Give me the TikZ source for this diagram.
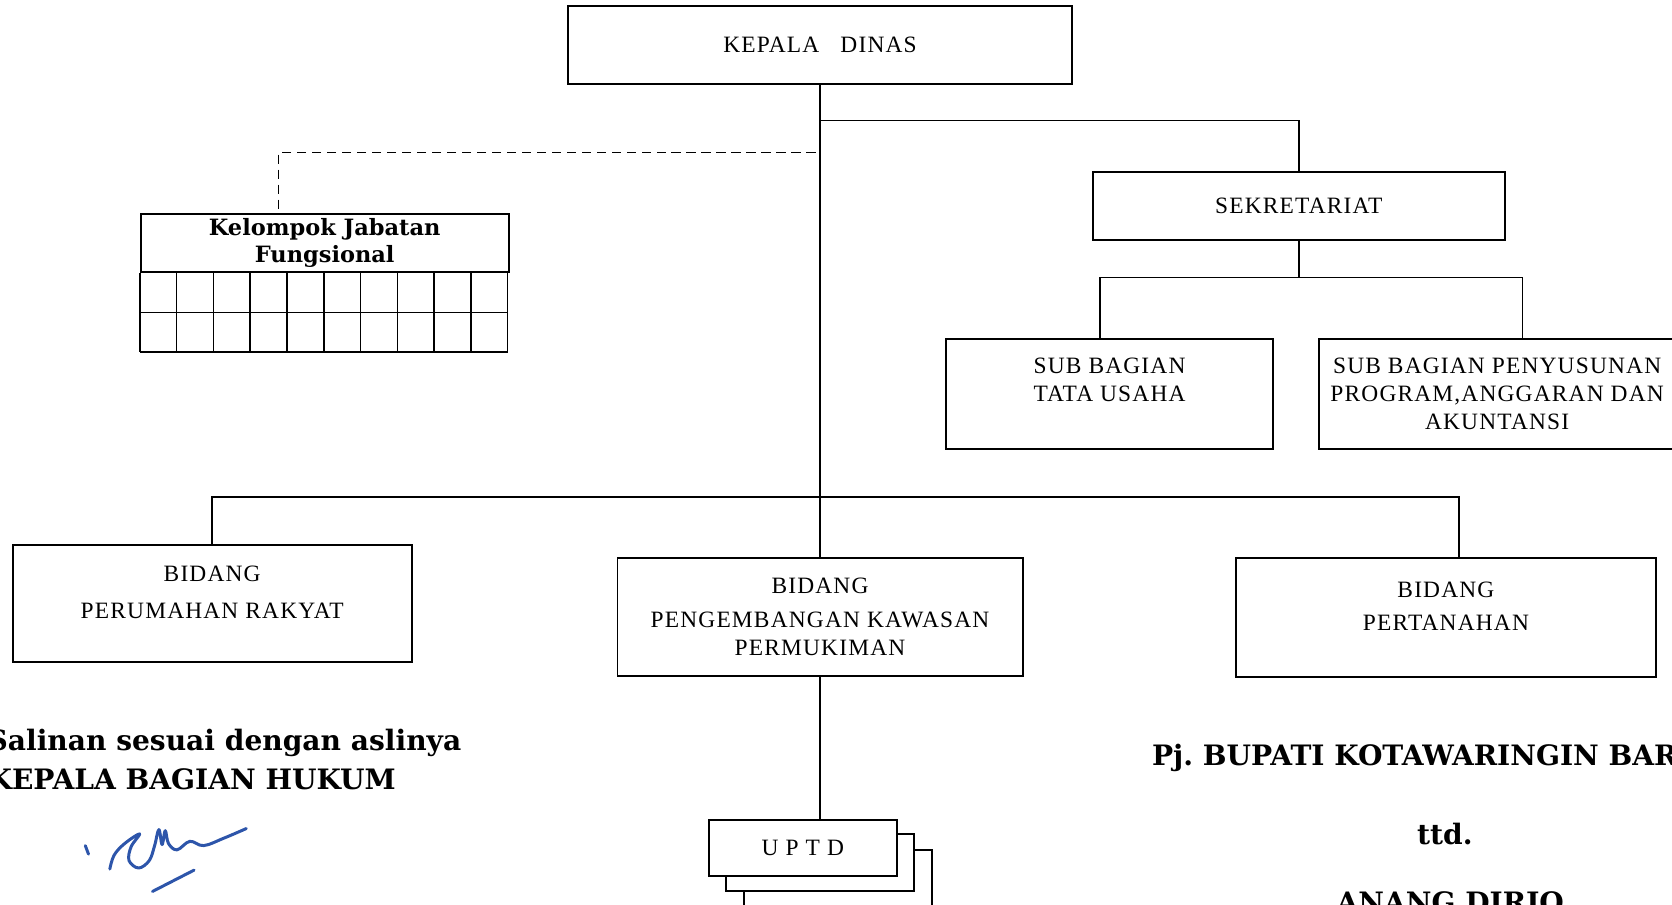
\documentclass[tikz,border=0pt]{standalone}
\usepackage{fontspec}
\setmainfont{DejaVu Serif}
\newfontfamily\boxfont[LetterSpace=5]{Liberation Serif}
\usetikzlibrary{calc,positioning}
\definecolor{tinta}{RGB}{45,85,170}
\frenchspacing
\tikzset{
  kotak/.style 2 args={draw, line width=1pt, fill=white, minimum width=#1, minimum height=#2,
    align=center, inner sep=2pt, font=\boxfont\fontsize{12.5}{15}\selectfont},
  garis/.style={line width=0.8pt},
  tebal/.style={font=\bfseries\fontsize{15}{18}\selectfont, inner sep=0pt},
  paraf/.style={tinta, line width=1.6pt, line cap=round, line join=round},
}
\begin{document}
\begin{tikzpicture}[x=0.02cm, y=-0.02cm]
		%%%%% START %%%%%
		\useasboundingbox (0,0) rectangle (1568,848);
		
		\node[kotak={9.46cm}{1.46cm}] (kepala) at (769,42) {KEPALA\ \ \ DINAS};
		\node[kotak={7.72cm}{1.28cm}] (sekre) at (1218,193) {SEKRETARIAT};
		\node[kotak={6.14cm}{2.06cm}] (tu) at (1040.5,369.5) {SUB BAGIAN\\TATA USAHA\\\mbox{}};
		\node[kotak={6.7cm}{2.06cm}] (pa) at (1404,369.5) {SUB BAGIAN PENYUSUNAN\\PROGRAM,ANGGARAN DAN\\AKUNTANSI};
		
		\node[kotak={7.48cm}{2.2cm}] (rakyat) at (199,566) {BIDANG\\[5pt]PERUMAHAN RAKYAT\\[-3pt]\mbox{}};
		\node[kotak={7.6cm}{2.22cm}] (kawasan) at (769,578.5) {BIDANG\\[3pt]PENGEMBANGAN KAWASAN\\PERMUKIMAN};
		\node[kotak={7.88cm}{2.24cm}] (tanah) at (1356,579) {BIDANG\\[3pt]PERTANAHAN\\[-3pt]\mbox{}};
		
		% kelompok jabatan fungsional
		\node[kotak={6.9cm}{1.08cm}, font=\bfseries\fontsize{12}{14.5}\selectfont] (jf) at (304.5,228) {Kelompok Jabatan\\Fungsional};
		\foreach \i in {0,...,10}
			\draw[garis] ($(jf.south west)+(\i*34.5,0)$) -- ++(0,74);
		\foreach \j in {1,2}
			\draw[garis] ($(jf.south west)+(0,\j*37)$) -- ++(345,0);
		
		% uptd
		\coordinate (u0) at (664,768);
		\foreach \k in {2,1}
			\draw[line width=1pt, fill=white] ($(u0)+(\k*17,\k*14.5)$) rectangle ++(176,53);
		\node[kotak={3.52cm}{1.06cm}, anchor=north west] (uptd) at (u0) {U P T D};
		
		% garis
		\draw[garis] (kepala.south) -- (kawasan.north);
		\draw[garis] (kawasan.south) -- (kawasan.south |- uptd.north);
		\draw[garis] (kepala.south |- 0,113) -| (sekre.north);
		\draw[garis] (sekre.south) -- (sekre.south |- 0,261);
		\draw[garis] ($(tu.north)+(-9,0)$) |- ($(pa.north)+(24,-57)$) -- ($(pa.north)+(24,0)$);
		\draw[garis] (rakyat.north) |- ($(tanah.north)+(12,-56)$) -- ($(tanah.north)+(12,0)$);
		\coordinate (putus) at (765,143);
		\draw[garis, dash pattern=on 5pt off 3pt] (putus) -| ($(jf.north)+(-43.5,0)$);
		
		% pengesahan
		\node[tebal, anchor=west] (salinan) at (-12,697) {Salinan sesuai dengan aslinya};
		\node[tebal, anchor=west] (hukum) at (-12,731) {KEPALA BAGIAN HUKUM};
		\node[tebal, anchor=west] (bupati) at (1080,711) {Pj. BUPATI KOTAWARINGIN BARAT};
		\node[tebal] (ttd) at (1355,782) {ttd.};
		\node[tebal] (nama) at (1360,849) {ANANG DIRJO};
		
		% paraf
		\draw[paraf] (80,793) -- (83,801);
		\draw[paraf] plot[smooth, tension=0.6] coordinates {(103,815) (107,802) (117,791) (131,782) (123,794) (121,807) (130,814) (140,807) (145,793) (149,778) (152,792) (155,779) (158,791) (166,797) (178,789) (191,793) (210,786) (231,777)};
		\draw[paraf] (143,836) -- (182,816);
		
		%%%%% END %%%%%
	\end{tikzpicture}
\end{document}
